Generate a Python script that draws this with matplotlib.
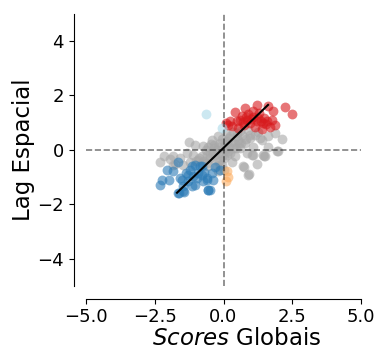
import numpy as np
import matplotlib
matplotlib.use("Agg")
import matplotlib.pyplot as plt

# Moran scatterplot: standardized scores vs. spatial lag, coloured by LISA quadrant

# High-High (significant)
hh_z = [0.79, 1.23, 1.62, 2.25, 2.48, 1.81, 0.42, 0.09, 0.48, 0.66, 0.90, 1.08, 1.30,
        1.47, 1.75, 1.87, 1.69, 1.42, 1.21, 0.96, 0.75, 0.54, 0.30, 0.84, 1.15, 1.39,
        1.57, 1.27, 1.06, 0.60, 0.24, 0.82, 1.00, 1.35, 1.55, 0.70, 0.15]
hh_lag = [1.53, 1.65, 1.59, 1.56, 1.31, 1.44, 1.37, 0.98, 1.04, 1.25, 1.32, 1.22, 1.34,
          1.16, 1.10, 0.92, 0.85, 0.98, 1.04, 0.98, 0.92, 0.79, 0.88, 1.10, 0.85, 0.76,
          1.04, 1.16, 1.44, 1.10, 1.04, 1.20, 1.12, 1.05, 0.95, 1.02, 0.90]

# Low-Low (significant)
ll_z = [-1.64, -2.07, -2.25, -2.31, -1.82, -1.58, -1.46, -1.64, -1.46, -1.22, -1.10,
        -0.92, -0.79, -0.61, -0.55, -0.43, -0.37, -0.73, -1.28, -1.04, -0.13, -2.00,
        -1.52, -1.61, -1.44, -1.16, -1.28, -1.04, -1.16, -0.85, -0.79, -0.61, -0.56,
        -0.49, -0.30, -0.95, -1.35, -0.70]
ll_lag = [-0.43, -0.73, -1.10, -1.28, -0.79, -1.04, -1.34, -1.59, -1.53, -0.73, -0.98,
          -0.85, -0.61, -1.04, -1.47, -0.85, -1.10, -1.16, -1.16, -0.55, -0.73, -1.10,
          -1.10, -1.59, -1.56, -0.61, -0.92, -1.28, -1.34, -0.61, -0.92, -1.10, -1.47,
          -1.47, -0.62, -1.05, -0.85, -0.80]

# Low-High (significant)
lh_z = [-0.64, -0.07]
lh_lag = [1.31, 0.80]

# High-Low (significant)
hl_z = [0.14, 0.17, 0.09]
hl_lag = [-0.79, -1.00, -1.16]

# Not significant
ns_z = [0.90, 1.27, 1.63, 1.87, 2.12, 1.93, 1.47, 1.21, 0.90, 0.75, 1.08, 0.78, 0.54,
        0.60, 0.84, 0.42, 0.30, 0.48, 0.24, 0.12, 0.66, 0.96, 1.15, 1.39, 1.63,
        -1.24, -1.04, -0.73, -0.43, -0.35, -0.19, -0.13, -0.25, -0.49, -0.79, -1.10,
        -1.34, -2.16, -2.31, -1.82, -1.76, -1.46, -1.22, -0.92, -0.61, -0.31, -0.13,
        -0.07, -0.55, 0.05, 0.14, 0.00, -0.19, 1.02, 1.51, 1.99, 0.72, 0.94,
        -0.90, -0.70, -0.60, -0.50, -0.40, -0.30, -0.20, -0.10, 0.00, 0.10, 0.20, 0.30,
        0.40, 0.50, 0.20, 0.10, -0.05, 0.35, 0.60, 0.00, -0.15, 0.15, -0.35, 0.25,
        0.45, 0.65, 0.80, -0.55, -0.80, -1.00, -0.25, -0.05, 1.33, 1.09, 1.45, 0.96,
        -1.85, -1.60, -1.95, 0.55, 0.35, -0.65, -0.45, 0.05]
ns_lag = [0.73, 0.67, 0.49, 0.61, 0.39, -0.06, -0.24, -0.51, -0.92, -0.63, 0.12, 0.24,
          0.37, 0.06, -0.12, -0.24, -0.43, 0.61, 0.49, 0.31, 0.55, 0.43, 0.55, 0.37, 0.12,
          0.27, 0.18, 0.15, 0.37, 0.18, 0.49, 0.24, 0.00, -0.12, -0.24, -0.18,
          -0.12, -0.24, -0.46, -0.24, -0.51, -0.55, -0.43, -0.37, -0.49, -0.37, -0.55,
          -0.24, 0.12, 0.00, -0.18, -0.73, -0.79, -0.18, -0.24, -0.06, -0.61, -0.88,
          -0.30, -0.40, -0.20, -0.30, -0.10, -0.20, 0.10, -0.10, 0.10, 0.20, 0.10, 0.30,
          0.20, 0.50, 0.45, 0.60, 0.40, 0.65, 0.70, -0.30, -0.40, -0.05, 0.05, -0.10,
          0.05, 0.25, 0.40, -0.60, -0.50, -0.40, -0.60, -0.55, 0.43, -0.18, -0.18, 0.55,
          -0.55, -0.30, -0.35, 0.25, 0.05, 0.00, 0.20, 0.30]

# Fitted line: slope (global Moran's I) and span of the lag values
moran_i = 0.974
fit_intercept = 0.07
fit_span = [-1.69, 1.62]

ticks = [-5.0, -2.5, 0.0, 2.5, 5.0]
yticks = [-4, -2, 0, 2, 4]

fig = plt.figure(figsize=(3.77, 3.5), dpi=100)
ax = fig.add_axes([86 / 377, 64 / 350, 275 / 377, 272.4 / 350])

mk = dict(s=50, alpha=0.6, linewidths=0)
ax.scatter(ns_z, ns_lag, color="#a8a8a8", **mk)
ax.scatter(hh_z, hh_lag, color="#d7191c", **mk)
ax.scatter(ll_z, ll_lag, color="#2c7bb6", **mk)
ax.scatter(lh_z, lh_lag, color="#abd9e9", **mk)
ax.scatter(hl_z, hl_lag, color="#fdae61", **mk)

xs = np.array(fit_span)
ax.plot(xs, fit_intercept + moran_i * xs, color="black", lw=1.5)

ax.axvline(0, color="black", alpha=0.5, ls="--", lw=1.2)
ax.axhline(0, color="black", alpha=0.5, ls="--", lw=1.2)

ax.set_xlim(-5, 5)
ax.set_ylim(-5, 5)
ax.set_xticks(ticks)
ax.set_yticks(yticks)
ax.tick_params(labelsize=13)
ax.set_xlabel(r"$\mathit{Scores}$ Globais", fontsize=16.5)
ax.set_ylabel("Lag Espacial", fontsize=16.5)
ax.xaxis.set_label_coords(0.547, -0.15)
ax.yaxis.set_label_coords(-0.185, 0.5)

for side in ("top", "right"):
    ax.spines[side].set_visible(False)
ax.spines["left"].set_position(("outward", 9))
ax.spines["bottom"].set_position(("outward", 9))

fig.savefig("out.png", dpi=100)
